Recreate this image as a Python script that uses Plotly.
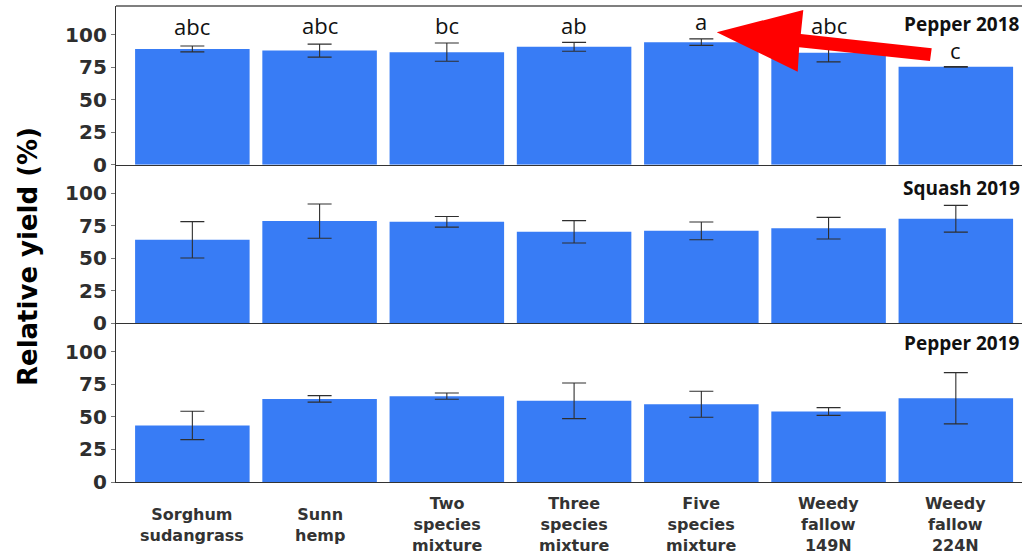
import plotly.graph_objects as go

categories = ["Sorghum sudangrass", "Sunn hemp", "Two species mixture",
              "Three species mixture", "Five species mixture",
              "Weedy fallow 149N", "Weedy fallow 224N"]
tick_labels = ["Sorghum<br>sudangrass", "Sunn<br>hemp", "Two<br>species<br>mixture",
               "Three<br>species<br>mixture", "Five<br>species<br>mixture",
               "Weedy<br>fallow<br>149N", "Weedy<br>fallow<br>224N"]

panel_titles = ["Pepper 2018", "Squash 2019", "Pepper 2019"]

pepper2018 = [89.0, 87.7, 86.5, 90.6, 94.2, 86.0, 75.2]
pepper2018_err = [2.3, 5.0, 7.0, 3.4, 2.5, 7.0, 0.3]

squash2019 = [64.2, 78.6, 78.1, 70.4, 71.1, 73.2, 80.4]
squash2019_err = [14.0, 13.2, 4.1, 8.6, 6.8, 8.3, 10.3]

pepper2019 = [43.5, 63.9, 66.0, 62.4, 59.8, 54.2, 64.4]
pepper2019_err = [10.9, 2.5, 2.4, 13.7, 10.0, 3.0, 19.7]

letters_2018 = ["abc", "abc", "bc", "ab", "a", "abc", "c"]
letters_2018_y = [106.5, 107.5, 107.5, 107.5, 110.5, 107.5, 88.0]

yticks = [0, 25, 50, 75, 100]

BAR = "#387cf5"
INK = "#2e2e2e"

# figure geometry (pixels) used to place overlay decorations
W, H = 1027, 558
ML, MR, MT, MB = 116, 5, 6, 76
PW, PH = W - ML - MR, H - MT - MB


def px2paper(px, py):
    return (px - ML) / PW, (H - MB - py) / PH


fig = go.Figure()
series = [(pepper2018, pepper2018_err), (squash2019, squash2019_err), (pepper2019, pepper2019_err)]
for i, (vals, errs) in enumerate(series):
    ax = "" if i == 0 else str(i + 1)
    fig.add_trace(go.Bar(
        x=list(range(len(categories))), y=vals,
        xaxis="x" + ax, yaxis="y" + ax,
        marker=dict(color=BAR, line=dict(width=0)),
        width=0.9,
        error_y=dict(type="data", array=errs, visible=True,
                     color=INK, thickness=1.1, width=12),
        hovertext=categories, showlegend=False,
    ))

domains = [[2 / 3, 1], [1 / 3, 2 / 3], [0, 1 / 3]]
layout = dict(
    width=W, height=H,
    margin=dict(l=ML, r=MR, t=MT, b=MB),
    plot_bgcolor="white", paper_bgcolor="white",
    bargap=0.1,
)
for i in range(3):
    sfx = "" if i == 0 else str(i + 1)
    layout["xaxis" + sfx] = dict(
        domain=[0, 1], anchor="y" + sfx, range=[-0.6, 6.52],
        showticklabels=False, ticks="", showgrid=False, zeroline=False,
        showline=True, linecolor="#333333", linewidth=1.3,
        matches="x" if i > 0 else None,
    )
    layout["yaxis" + sfx] = dict(
        domain=domains[i], anchor="x" + sfx, range=[0, 122],
        tickvals=yticks, ticktext=[str(v) for v in yticks],
        ticks="outside", ticklen=4, tickcolor="#777777", tickwidth=1,
        tickfont=dict(family="DejaVu Sans", size=20, color=INK, weight="bold"),
        showgrid=False, zeroline=False,
        showline=True, linecolor="#333333", linewidth=1.3,
    )
fig.update_layout(**layout)

annotations = []
# significance letters (top panel)
for i, (lab, ly) in enumerate(zip(letters_2018, letters_2018_y)):
    annotations.append(dict(
        x=i, y=ly, xref="x", yref="y", text=lab, showarrow=False,
        xanchor="center", yanchor="middle",
        font=dict(family="Open Sans", size=22, color="#111111"),
    ))
# panel titles
title_y = [24, 188, 343]
for t, ty in zip(panel_titles, title_y):
    _, yp = px2paper(0, ty)
    annotations.append(dict(
        x=1.0, y=yp, xref="paper", yref="paper", text="<b>" + t + "</b>",
        showarrow=False, xanchor="right", yanchor="middle",
        font=dict(family="Open Sans", size=19, color="#111111"),
    ))
# category labels under bottom panel
_, ylab = px2paper(0, 524.5)
for i, lab in enumerate(tick_labels):
    annotations.append(dict(
        x=i, y=ylab, xref="x3", yref="paper", text="<b>" + lab + "</b>",
        showarrow=False, xanchor="center", yanchor="middle",
        font=dict(family="DejaVu Sans", size=16, color="#333333"),
    ))
# y-axis title
xt, yt = px2paper(28, 257)
annotations.append(dict(
    x=xt, y=yt, xref="paper", yref="paper", text="<b>Relative yield (%)</b>",
    showarrow=False, textangle=-90, xanchor="center", yanchor="middle",
    font=dict(family="DejaVu Sans", size=26, color="#000000"),
))
fig.update_layout(annotations=annotations)

# top border of first panel
shapes = [dict(type="line", xref="paper", yref="paper", x0=0, x1=1, y0=1, y1=1,
               line=dict(color="#555555", width=1.3))]
# red arrow overlay pointing to "a"
arrow_px = [(716.7, 32.3), (803.3, 10.0), (800.8, 34.0), (931.7, 48.3),
            (930.0, 61.0), (799.2, 47.2), (797.7, 71.7)]
pts = [px2paper(x, y) for x, y in arrow_px]
path = "M " + " L ".join(f"{x:.5f},{y:.5f}" for x, y in pts) + " Z"
shapes.append(dict(type="path", xref="paper", yref="paper", path=path,
                   fillcolor="#ff0000", line=dict(width=0), layer="above"))
fig.update_layout(shapes=shapes)

fig.write_html("out.html", config={"displayModeBar": False},
               post_script="document.body.style.margin='0';document.body.style.overflow='hidden';")
